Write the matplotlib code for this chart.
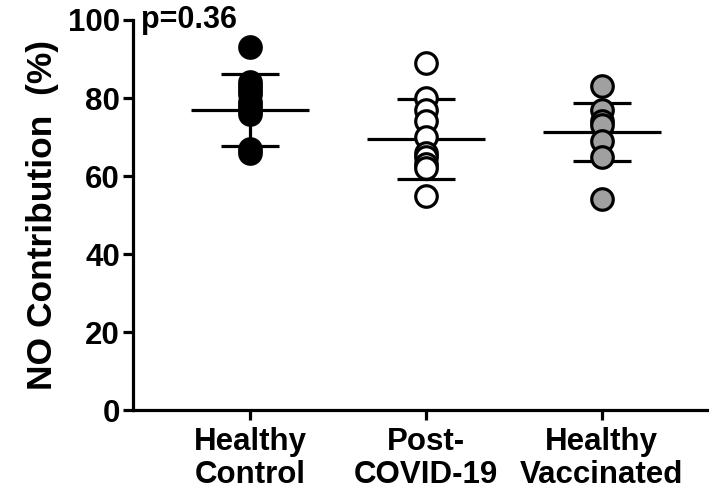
import matplotlib
matplotlib.use("Agg")
import matplotlib.pyplot as plt
import numpy as np

plt.rcParams['font.family'] = ['Liberation Sans', 'DejaVu Sans']
plt.rcParams['font.weight'] = 'bold'

categories = ["Healthy\nControl", "Post-\nCOVID-19", "Healthy\nVaccinated"]
healthy_control = [93, 84, 83, 82, 81, 79, 78, 77, 76, 67, 66]
post_covid = [89, 80, 77, 74, 70, 66, 65, 63, 62, 55]
healthy_vaccinated = [83, 77, 74, 73, 69, 65, 54]
means = [76.9, 69.5, 71.3]
sds = [9.2, 10.2, 7.5]
face_colors = ["black", "white", "#a0a0a0"]
y_ticks = [0, 20, 40, 60, 80, 100]
p_text = "p=0.36"
y_label = "NO Contribution  (%)"

groups = [healthy_control, post_covid, healthy_vaccinated]

fig = plt.figure(figsize=(7.09, 4.95), dpi=100)
ax = fig.add_axes([0.1876, 0.1717, 0.8124, 0.7879])

lw = 2.3
for i, (vals, m, s, fc) in enumerate(zip(groups, means, sds, face_colors)):
    x = i + 1
    ax.plot([x - 0.335, x + 0.335], [m, m], color="black", lw=lw, zorder=2, solid_capstyle="butt")
    ax.plot([x - 0.165, x + 0.165], [m + s, m + s], color="black", lw=lw, zorder=2, solid_capstyle="butt")
    ax.plot([x - 0.165, x + 0.165], [m - s, m - s], color="black", lw=lw, zorder=2, solid_capstyle="butt")
    ax.plot([x, x], [m - s, m + s], color="black", lw=lw, zorder=2)
    ax.scatter([x] * len(vals), vals, s=240, facecolor=fc, edgecolor="black",
               linewidth=2.3, zorder=3, clip_on=False)

ax.set_xlim(0.335, 3.61)
ax.set_ylim(0, 100)
ax.set_yticks(y_ticks)
ax.set_xticks([1, 2, 3])
ax.set_xticklabels(categories, fontsize=22.5, fontweight="bold", linespacing=1.12)
ax.tick_params(axis="y", direction="out", length=7.5, width=lw, labelsize=22.5, pad=2)
ax.tick_params(axis="x", direction="out", length=7.5, width=lw, labelsize=22.5, pad=5)
for lab in ax.get_yticklabels():
    lab.set_fontweight("bold")
ax.spines["top"].set_visible(False)
ax.spines["right"].set_visible(False)
ax.spines["left"].set_linewidth(lw)
ax.spines["bottom"].set_linewidth(lw)
ax.set_ylabel(y_label, fontsize=25.5, fontweight="bold", labelpad=6)
ax.text(0.38, 100, p_text, fontsize=22, fontweight="bold", va="center", ha="left")

fig.savefig("out.png", dpi=100)
